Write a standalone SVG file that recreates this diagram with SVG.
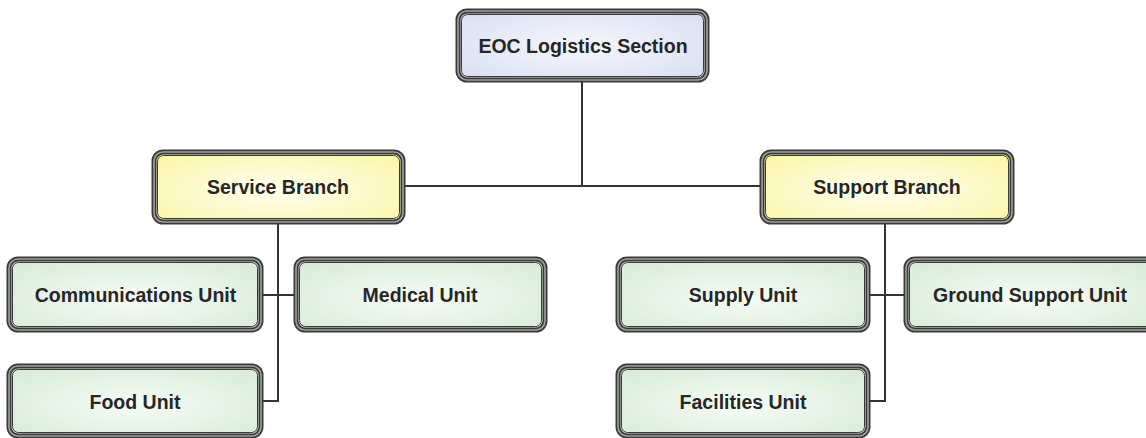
<svg xmlns="http://www.w3.org/2000/svg" width="1146" height="438" viewBox="0 0 1146 438">
  <style>
    .frame { stroke: #3a3a3a; stroke-width: 5; }
    .rim { fill: none; stroke: #a0a0a0; stroke-width: 1.6; }
    .inner { fill: none; stroke: #3a3a3a; stroke-width: 1; }
    .label { font-family: "Liberation Sans", Arial, sans-serif; font-weight: bold; font-size: 19.5px; fill: #262626; text-anchor: middle; dominant-baseline: central; }
    .link { fill: none; stroke: #333; stroke-width: 2; }
  </style>
  <defs>
    <radialGradient id="blueFill" cx="50%" cy="50%" r="75%">
      <stop offset="0" stop-color="#f6f7fc"/>
      <stop offset="1" stop-color="#d6dbf0"/>
    </radialGradient>
    <radialGradient id="yellowFill" cx="50%" cy="55%" r="75%">
      <stop offset="0" stop-color="#fffff0"/>
      <stop offset="1" stop-color="#f9f5a0"/>
    </radialGradient>
    <radialGradient id="greenFill" cx="50%" cy="55%" r="75%">
      <stop offset="0" stop-color="#f6fbf6"/>
      <stop offset="1" stop-color="#d4ead4"/>
    </radialGradient>
  </defs>

  <g id="connectors">
    <path class="link" d="M582 80 V186 M403 186 H762"/>
    <path class="link" d="M278 222 V401 H262 M262 295 H295"/>
    <path class="link" d="M885 222 V401 H868 M868 295 H905"/>
  </g>

  <g id="eoc-logistics">
    <rect class="frame" x="458" y="11" width="249" height="69" rx="9" fill="url(#blueFill)"/>
    <rect class="rim" x="458" y="11" width="249" height="69" rx="9"/>
    <rect class="inner" x="461.5" y="14.5" width="242" height="62" rx="6"/>
    <text class="label" x="583" y="46">EOC Logistics Section</text>
  </g>

  <g id="service-branch">
    <rect class="frame" x="154" y="152" width="249" height="70" rx="9" fill="url(#yellowFill)"/>
    <rect class="rim" x="154" y="152" width="249" height="70" rx="9"/>
    <rect class="inner" x="157.5" y="155.5" width="242" height="63" rx="6"/>
    <text class="label" x="278" y="187">Service Branch</text>
  </g>

  <g id="support-branch">
    <rect class="frame" x="762" y="152" width="250" height="70" rx="9" fill="url(#yellowFill)"/>
    <rect class="rim" x="762" y="152" width="250" height="70" rx="9"/>
    <rect class="inner" x="765.5" y="155.5" width="243" height="63" rx="6"/>
    <text class="label" x="887" y="187">Support Branch</text>
  </g>

  <g id="communications-unit">
    <rect class="frame" x="9" y="259" width="252" height="71" rx="9" fill="url(#greenFill)"/>
    <rect class="rim" x="9" y="259" width="252" height="71" rx="9"/>
    <rect class="inner" x="12.5" y="262.5" width="245" height="64" rx="6"/>
    <text class="label" x="135.5" y="295">Communications Unit</text>
  </g>

  <g id="medical-unit">
    <rect class="frame" x="296" y="259" width="249" height="71" rx="9" fill="url(#greenFill)"/>
    <rect class="rim" x="296" y="259" width="249" height="71" rx="9"/>
    <rect class="inner" x="299.5" y="262.5" width="242" height="64" rx="6"/>
    <text class="label" x="420" y="295">Medical Unit</text>
  </g>

  <g id="food-unit">
    <rect class="frame" x="9" y="366" width="252" height="70" rx="9" fill="url(#greenFill)"/>
    <rect class="rim" x="9" y="366" width="252" height="70" rx="9"/>
    <rect class="inner" x="12.5" y="369.5" width="245" height="63" rx="6"/>
    <text class="label" x="135" y="402">Food Unit</text>
  </g>

  <g id="supply-unit">
    <rect class="frame" x="618" y="259" width="250" height="71" rx="9" fill="url(#greenFill)"/>
    <rect class="rim" x="618" y="259" width="250" height="71" rx="9"/>
    <rect class="inner" x="621.5" y="262.5" width="243" height="64" rx="6"/>
    <text class="label" x="743" y="295">Supply Unit</text>
  </g>

  <g id="ground-support-unit">
    <rect class="frame" x="906" y="259" width="250" height="71" rx="9" fill="url(#greenFill)"/>
    <rect class="rim" x="906" y="259" width="250" height="71" rx="9"/>
    <rect class="inner" x="909.5" y="262.5" width="243" height="64" rx="6"/>
    <text class="label" x="1030" y="295">Ground Support Unit</text>
  </g>

  <g id="facilities-unit">
    <rect class="frame" x="618" y="366" width="250" height="70" rx="9" fill="url(#greenFill)"/>
    <rect class="rim" x="618" y="366" width="250" height="70" rx="9"/>
    <rect class="inner" x="621.5" y="369.5" width="243" height="63" rx="6"/>
    <text class="label" x="743" y="402">Facilities Unit</text>
  </g>
</svg>
